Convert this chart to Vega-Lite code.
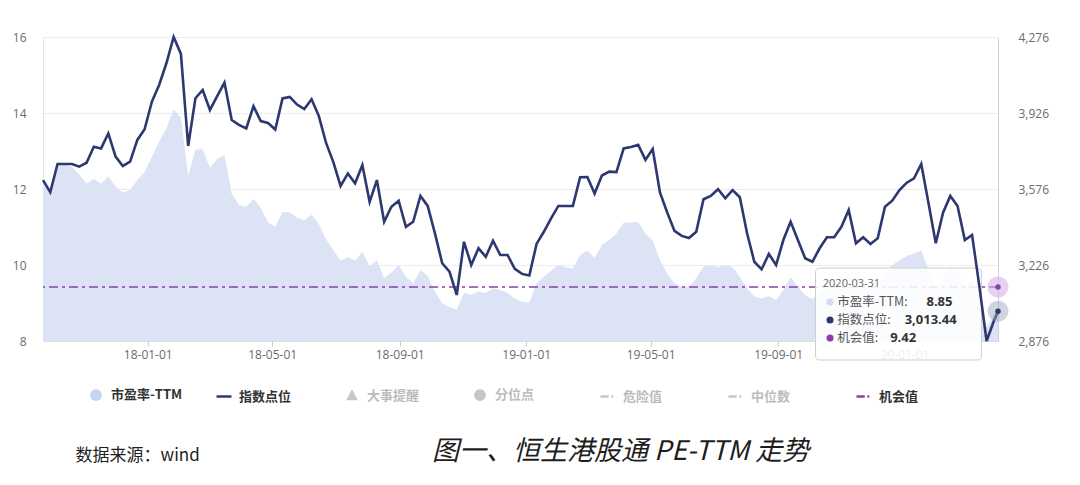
{
  "$schema": "https://vega.github.io/schema/vega-lite/v6.json",
  "width": 955,
  "height": 304,
  "autosize": {"type": "none"},
  "padding": {"left": 43, "top": 37, "right": 82, "bottom": 144},
  "background": "#ffffff",
  "config": {
    "view": {"stroke": null},
    "font": "Noto Sans CJK SC",
    "axis": {"labelFont": "Open Sans", "labelFontSize": 12, "labelColor": "#6b6b6b"}
  },
  "title": {
    "text": "图一、恒生港股通 PE-TTM 走势",
    "orient": "bottom",
    "anchor": "start",
    "frame": "group",
    "dx": 389,
    "offset": -24,
    "font": "Noto Sans CJK SC",
    "fontSize": 27,
    "fontStyle": "italic",
    "fontWeight": "normal",
    "color": "#1e1e1e"
  },
  "datasets": {
    "main": [
      {"date": "2017-09-22", "pe": 12.13, "idx": 3617},
      {"date": "2017-09-29", "pe": 11.92, "idx": 3561},
      {"date": "2017-10-06", "pe": 12.63, "idx": 3691},
      {"date": "2017-10-13", "pe": 12.63, "idx": 3691},
      {"date": "2017-10-20", "pe": 12.57, "idx": 3691},
      {"date": "2017-10-27", "pe": 12.38, "idx": 3679},
      {"date": "2017-11-03", "pe": 12.14, "idx": 3697},
      {"date": "2017-11-10", "pe": 12.27, "idx": 3771},
      {"date": "2017-11-17", "pe": 12.14, "idx": 3763},
      {"date": "2017-11-24", "pe": 12.33, "idx": 3832},
      {"date": "2017-12-01", "pe": 12.06, "idx": 3725},
      {"date": "2017-12-08", "pe": 11.9, "idx": 3682},
      {"date": "2017-12-15", "pe": 11.98, "idx": 3702},
      {"date": "2017-12-22", "pe": 12.24, "idx": 3802},
      {"date": "2017-12-29", "pe": 12.45, "idx": 3851},
      {"date": "2018-01-05", "pe": 12.85, "idx": 3978},
      {"date": "2018-01-12", "pe": 13.25, "idx": 4055},
      {"date": "2018-01-19", "pe": 13.6, "idx": 4155},
      {"date": "2018-01-26", "pe": 14.09, "idx": 4276},
      {"date": "2018-02-02", "pe": 13.88, "idx": 4198},
      {"date": "2018-02-09", "pe": 12.35, "idx": 3774},
      {"date": "2018-02-16", "pe": 13.03, "idx": 3994},
      {"date": "2018-02-23", "pe": 13.05, "idx": 4032},
      {"date": "2018-03-02", "pe": 12.55, "idx": 3940},
      {"date": "2018-03-09", "pe": 12.79, "idx": 4004},
      {"date": "2018-03-16", "pe": 12.89, "idx": 4066},
      {"date": "2018-03-23", "pe": 11.87, "idx": 3894},
      {"date": "2018-03-30", "pe": 11.58, "idx": 3871},
      {"date": "2018-04-06", "pe": 11.53, "idx": 3855},
      {"date": "2018-04-13", "pe": 11.74, "idx": 3957},
      {"date": "2018-04-20", "pe": 11.51, "idx": 3889},
      {"date": "2018-04-27", "pe": 11.12, "idx": 3880},
      {"date": "2018-05-04", "pe": 11.01, "idx": 3850},
      {"date": "2018-05-11", "pe": 11.4, "idx": 3993},
      {"date": "2018-05-18", "pe": 11.38, "idx": 4000},
      {"date": "2018-05-25", "pe": 11.25, "idx": 3965},
      {"date": "2018-06-01", "pe": 11.18, "idx": 3944},
      {"date": "2018-06-08", "pe": 11.32, "idx": 3989},
      {"date": "2018-06-15", "pe": 11.08, "idx": 3912},
      {"date": "2018-06-22", "pe": 10.68, "idx": 3788},
      {"date": "2018-06-29", "pe": 10.39, "idx": 3700},
      {"date": "2018-07-06", "pe": 10.11, "idx": 3590},
      {"date": "2018-07-13", "pe": 10.21, "idx": 3647},
      {"date": "2018-07-20", "pe": 10.12, "idx": 3602},
      {"date": "2018-07-27", "pe": 10.35, "idx": 3686},
      {"date": "2018-08-03", "pe": 9.96, "idx": 3517},
      {"date": "2018-08-10", "pe": 10.13, "idx": 3617},
      {"date": "2018-08-17", "pe": 9.65, "idx": 3425},
      {"date": "2018-08-24", "pe": 9.8, "idx": 3494},
      {"date": "2018-08-31", "pe": 10.0, "idx": 3522},
      {"date": "2018-09-07", "pe": 9.69, "idx": 3402},
      {"date": "2018-09-14", "pe": 9.52, "idx": 3425},
      {"date": "2018-09-21", "pe": 9.87, "idx": 3544},
      {"date": "2018-09-28", "pe": 9.71, "idx": 3498},
      {"date": "2018-10-05", "pe": 9.3, "idx": 3372},
      {"date": "2018-10-12", "pe": 8.99, "idx": 3234},
      {"date": "2018-10-19", "pe": 8.9, "idx": 3195},
      {"date": "2018-10-26", "pe": 8.82, "idx": 3088},
      {"date": "2018-11-02", "pe": 9.26, "idx": 3333},
      {"date": "2018-11-09", "pe": 9.21, "idx": 3226},
      {"date": "2018-11-16", "pe": 9.3, "idx": 3303},
      {"date": "2018-11-23", "pe": 9.26, "idx": 3264},
      {"date": "2018-11-30", "pe": 9.39, "idx": 3338},
      {"date": "2018-12-07", "pe": 9.34, "idx": 3272},
      {"date": "2018-12-14", "pe": 9.26, "idx": 3272},
      {"date": "2018-12-21", "pe": 9.12, "idx": 3208},
      {"date": "2018-12-28", "pe": 9.03, "idx": 3185},
      {"date": "2019-01-04", "pe": 9.01, "idx": 3178},
      {"date": "2019-01-11", "pe": 9.52, "idx": 3323},
      {"date": "2019-01-18", "pe": 9.69, "idx": 3379},
      {"date": "2019-01-25", "pe": 9.85, "idx": 3441},
      {"date": "2019-02-01", "pe": 10.0, "idx": 3498},
      {"date": "2019-02-08", "pe": 9.94, "idx": 3498},
      {"date": "2019-02-15", "pe": 9.91, "idx": 3498},
      {"date": "2019-02-22", "pe": 10.26, "idx": 3630},
      {"date": "2019-03-01", "pe": 10.38, "idx": 3631},
      {"date": "2019-03-08", "pe": 10.18, "idx": 3555},
      {"date": "2019-03-15", "pe": 10.53, "idx": 3638},
      {"date": "2019-03-22", "pe": 10.66, "idx": 3656},
      {"date": "2019-03-29", "pe": 10.83, "idx": 3654},
      {"date": "2019-04-05", "pe": 11.11, "idx": 3763},
      {"date": "2019-04-12", "pe": 11.12, "idx": 3769},
      {"date": "2019-04-19", "pe": 11.14, "idx": 3779},
      {"date": "2019-04-26", "pe": 10.82, "idx": 3710},
      {"date": "2019-05-03", "pe": 10.65, "idx": 3760},
      {"date": "2019-05-10", "pe": 10.13, "idx": 3560},
      {"date": "2019-05-17", "pe": 9.76, "idx": 3468},
      {"date": "2019-05-24", "pe": 9.52, "idx": 3383},
      {"date": "2019-05-31", "pe": 9.42, "idx": 3360},
      {"date": "2019-06-07", "pe": 9.43, "idx": 3350},
      {"date": "2019-06-14", "pe": 9.65, "idx": 3379},
      {"date": "2019-06-21", "pe": 9.96, "idx": 3529},
      {"date": "2019-06-28", "pe": 10.0, "idx": 3544},
      {"date": "2019-07-05", "pe": 9.94, "idx": 3575},
      {"date": "2019-07-12", "pe": 10.0, "idx": 3533},
      {"date": "2019-07-19", "pe": 9.94, "idx": 3571},
      {"date": "2019-07-26", "pe": 9.69, "idx": 3538},
      {"date": "2019-08-02", "pe": 9.39, "idx": 3372},
      {"date": "2019-08-09", "pe": 9.17, "idx": 3241},
      {"date": "2019-08-16", "pe": 9.12, "idx": 3206},
      {"date": "2019-08-23", "pe": 9.18, "idx": 3277},
      {"date": "2019-08-30", "pe": 9.08, "idx": 3226},
      {"date": "2019-09-06", "pe": 9.34, "idx": 3341},
      {"date": "2019-09-13", "pe": 9.68, "idx": 3425},
      {"date": "2019-09-20", "pe": 9.43, "idx": 3341},
      {"date": "2019-09-27", "pe": 9.21, "idx": 3257},
      {"date": "2019-10-04", "pe": 9.1, "idx": 3241},
      {"date": "2019-10-11", "pe": 9.28, "idx": 3303},
      {"date": "2019-10-18", "pe": 9.42, "idx": 3354},
      {"date": "2019-10-25", "pe": 9.42, "idx": 3354},
      {"date": "2019-11-01", "pe": 9.56, "idx": 3402},
      {"date": "2019-11-08", "pe": 9.78, "idx": 3479},
      {"date": "2019-11-15", "pe": 9.35, "idx": 3326},
      {"date": "2019-11-22", "pe": 9.42, "idx": 3354},
      {"date": "2019-11-29", "pe": 9.34, "idx": 3323},
      {"date": "2019-12-06", "pe": 9.41, "idx": 3349},
      {"date": "2019-12-13", "pe": 9.82, "idx": 3494},
      {"date": "2019-12-20", "pe": 10.0, "idx": 3522},
      {"date": "2019-12-27", "pe": 10.12, "idx": 3571},
      {"date": "2020-01-03", "pe": 10.24, "idx": 3605},
      {"date": "2020-01-10", "pe": 10.3, "idx": 3625},
      {"date": "2020-01-17", "pe": 10.38, "idx": 3691},
      {"date": "2020-01-24", "pe": 9.88, "idx": 3510},
      {"date": "2020-01-31", "pe": 9.36, "idx": 3326},
      {"date": "2020-02-07", "pe": 9.74, "idx": 3467},
      {"date": "2020-02-14", "pe": 9.95, "idx": 3544},
      {"date": "2020-02-21", "pe": 9.88, "idx": 3498},
      {"date": "2020-02-28", "pe": 9.45, "idx": 3341},
      {"date": "2020-03-06", "pe": 9.55, "idx": 3364},
      {"date": "2020-03-13", "pe": 9.07, "idx": 3129},
      {"date": "2020-03-20", "pe": 8.35, "idx": 2876},
      {"date": "2020-03-27", "pe": 8.7, "idx": 2968},
      {"date": "2020-03-31", "pe": 8.85, "idx": 3013.44}
    ],
    "legendItems": [
      {"name": "市盈率-TTM"},
      {"name": "指数点位"},
      {"name": "大事提醒"},
      {"name": "分位点"},
      {"name": "危险值"},
      {"name": "中位数"},
      {"name": "机会值"}
    ],
    "one": [{}]
  },
  "layer": [
    {
      "layer": [
        {
          "data": {"name": "main"},
          "mark": {"type": "area", "color": "#dce3f5", "opacity": 1},
          "encoding": {
            "x": {
              "field": "date",
              "type": "temporal",
              "scale": {
                "type": "utc",
                "nice": false,
                "domain": [
                  {"year": 2017, "month": 9, "date": 22, "utc": true},
                  {"year": 2020, "month": 3, "date": 31, "utc": true}
                ]
              },
              "axis": {
                "title": "数据来源：wind",
                "titleX": 32,
                "titleY": 114,
                "titleAlign": "left",
                "titleAnchor": "start",
                "titleBaseline": "middle",
                "titleFont": "Noto Sans CJK SC",
                "titleFontSize": 17,
                "titleFontWeight": "normal",
                "titleColor": "#1e1e1e",
                "values": [
                  {"year": 2018, "month": 1, "date": 1, "utc": true},
                  {"year": 2018, "month": 5, "date": 1, "utc": true},
                  {"year": 2018, "month": 9, "date": 1, "utc": true},
                  {"year": 2019, "month": 1, "date": 1, "utc": true},
                  {"year": 2019, "month": 5, "date": 1, "utc": true},
                  {"year": 2019, "month": 9, "date": 1, "utc": true},
                  {"year": 2020, "month": 1, "date": 1, "utc": true}
                ],
                "format": "%y-%m-%d",
                "grid": false,
                "domainColor": "#dcdcdc",
                "tickColor": "#cccccc",
                "tickSize": 5,
                "labelPadding": 3,
                "labelFlush": false
              }
            },
            "y": {
              "field": "pe",
              "type": "quantitative",
              "stack": null,
              "scale": {"domain": [8, 16], "nice": false, "zero": false},
              "axis": {
                "title": null,
                "values": [8, 10, 12, 14, 16],
                "format": "d",
                "grid": true,
                "gridColor": "#ececec",
                "domain": true,
                "domainColor": "#e4e4e4",
                "ticks": false,
                "labelPadding": 17
              }
            }
          }
        },
        {
          "data": {"name": "one"},
          "mark": {"type": "rule", "color": "#8b3fae", "strokeWidth": 1.6, "strokeDash": [9, 4, 3, 4]},
          "encoding": {"y": {"datum": 9.42}}
        },
        {
          "data": {"name": "one"},
          "mark": {"type": "rect", "fill": "#ffffff", "fillOpacity": 0.88, "stroke": "#cfcfcf", "strokeWidth": 1, "cornerRadius": 4},
          "encoding": {
            "x": {"datum": {"year": 2019, "month": 10, "date": 7, "utc": true}, "type": "temporal"},
            "x2": {"datum": {"year": 2020, "month": 3, "date": 15, "utc": true}},
            "y": {"datum": 9.92},
            "y2": {"datum": 7.5}
          }
        },
        {
          "data": {"name": "one"},
          "mark": {"type": "text", "text": "2020-03-31", "align": "left", "baseline": "middle", "font": "Open Sans", "fontSize": 11, "color": "#666666"},
          "encoding": {
            "x": {"datum": {"year": 2019, "month": 10, "date": 14, "utc": true}, "type": "temporal"},
            "y": {"datum": 9.5}
          }
        },
        {
          "data": {"name": "one"},
          "mark": {"type": "point", "filled": true, "opacity": 1, "color": "#d3dcf3", "size": 50},
          "encoding": {
            "x": {"datum": {"year": 2019, "month": 10, "date": 21, "utc": true}, "type": "temporal"},
            "y": {"datum": 9.026}
          }
        },
        {
          "data": {"name": "one"},
          "mark": {"type": "point", "filled": true, "opacity": 1, "color": "#2e3870", "size": 50},
          "encoding": {
            "x": {"datum": {"year": 2019, "month": 10, "date": 21, "utc": true}, "type": "temporal"},
            "y": {"datum": 8.553}
          }
        },
        {
          "data": {"name": "one"},
          "mark": {"type": "point", "filled": true, "opacity": 1, "color": "#8b3fae", "size": 50},
          "encoding": {
            "x": {"datum": {"year": 2019, "month": 10, "date": 21, "utc": true}, "type": "temporal"},
            "y": {"datum": 8.079}
          }
        },
        {
          "data": {"name": "one"},
          "mark": {"type": "text", "text": "市盈率-TTM:", "align": "left", "baseline": "middle", "fontSize": 12.5, "color": "#555555"},
          "encoding": {
            "x": {"datum": {"year": 2019, "month": 10, "date": 28, "utc": true}, "type": "temporal"},
            "y": {"datum": 9.026}
          }
        },
        {
          "data": {"name": "one"},
          "mark": {"type": "text", "text": "指数点位:", "align": "left", "baseline": "middle", "fontSize": 12.5, "color": "#555555"},
          "encoding": {
            "x": {"datum": {"year": 2019, "month": 10, "date": 28, "utc": true}, "type": "temporal"},
            "y": {"datum": 8.553}
          }
        },
        {
          "data": {"name": "one"},
          "mark": {"type": "text", "text": "机会值:", "align": "left", "baseline": "middle", "fontSize": 12.5, "color": "#555555"},
          "encoding": {
            "x": {"datum": {"year": 2019, "month": 10, "date": 28, "utc": true}, "type": "temporal"},
            "y": {"datum": 8.079}
          }
        },
        {
          "data": {"name": "one"},
          "mark": {"type": "text", "text": "8.85", "align": "left", "baseline": "middle", "font": "Open Sans", "fontSize": 13, "fontWeight": "bold", "color": "#333333"},
          "encoding": {
            "x": {"datum": {"year": 2020, "month": 1, "date": 22, "utc": true}, "type": "temporal"},
            "y": {"datum": 9.026}
          }
        },
        {
          "data": {"name": "one"},
          "mark": {"type": "text", "text": "3,013.44", "align": "left", "baseline": "middle", "font": "Open Sans", "fontSize": 13, "fontWeight": "bold", "color": "#333333"},
          "encoding": {
            "x": {"datum": {"year": 2020, "month": 1, "date": 1, "utc": true}, "type": "temporal"},
            "y": {"datum": 8.553}
          }
        },
        {
          "data": {"name": "one"},
          "mark": {"type": "text", "text": "9.42", "align": "left", "baseline": "middle", "font": "Open Sans", "fontSize": 13, "fontWeight": "bold", "color": "#333333"},
          "encoding": {
            "x": {"datum": {"year": 2019, "month": 12, "date": 18, "utc": true}, "type": "temporal"},
            "y": {"datum": 8.079}
          }
        },
        {
          "data": {"name": "one"},
          "mark": {"type": "point", "filled": true, "color": "#d7b3e6", "opacity": 0.6, "size": 440},
          "encoding": {
            "x": {"datum": {"year": 2020, "month": 3, "date": 31, "utc": true}, "type": "temporal"},
            "y": {"datum": 9.42}
          }
        },
        {
          "data": {"name": "one"},
          "mark": {"type": "point", "filled": true, "color": "#8b3fae", "opacity": 1, "size": 30},
          "encoding": {
            "x": {"datum": {"year": 2020, "month": 3, "date": 31, "utc": true}, "type": "temporal"},
            "y": {"datum": 9.42}
          }
        },
        {
          "data": {"name": "legendItems"},
          "mark": {"type": "point", "filled": false, "opacity": 0},
          "encoding": {
            "stroke": {
              "field": "name",
              "type": "nominal",
              "scale": {
                "domain": ["市盈率-TTM", "指数点位", "大事提醒", "分位点", "危险值", "中位数", "机会值"],
                "range": ["#c8d5f1", "#2e3870", "#c6c6c6", "#c6c6c6", "#c6c6c6", "#c6c6c6", "#8b3fae"]
              },
              "legend": {
                "title": null,
                "orient": "none",
                "legendX": 44,
                "legendY": 349,
                "direction": "horizontal",
                "gridAlign": "all",
                "columnPadding": 29,
                "padding": 0,
                "symbolSize": 225,
                "symbolStrokeWidth": 2.5,
                "symbolOpacity": 1,
                "labelFont": "Noto Sans CJK SC",
                "labelFontSize": 13,
                "labelFontWeight": "bold",
                "labelOffset": 6,
                "labelLimit": 200,
                "labelColor": {"expr": "indexof(['市盈率-TTM','指数点位','机会值'], datum.value) >= 0 ? '#333333' : '#bcbcbc'"}
              }
            },
            "shape": {
              "field": "name",
              "type": "nominal",
              "scale": {
                "domain": ["市盈率-TTM", "指数点位", "大事提醒", "分位点", "危险值", "中位数", "机会值"],
                "range": [
                  "M0.62,0A0.62,0.62,0,1,1,-0.62,0A0.62,0.62,0,1,1,0.62,0ZM0.38,0A0.38,0.38,0,1,1,-0.38,0A0.38,0.38,0,1,1,0.38,0ZM0.14,0A0.14,0.14,0,1,1,-0.14,0A0.14,0.14,0,1,1,0.14,0Z",
                  "M-1,0H1",
                  "M0,-0.55L0.5,0.4L-0.5,0.4ZM0,-0.2L0.2,0.2L-0.2,0.2Z",
                  "M0.62,0A0.62,0.62,0,1,1,-0.62,0A0.62,0.62,0,1,1,0.62,0ZM0.38,0A0.38,0.38,0,1,1,-0.38,0A0.38,0.38,0,1,1,0.38,0ZM0.14,0A0.14,0.14,0,1,1,-0.14,0A0.14,0.14,0,1,1,0.14,0Z",
                  "M-1,0H0.1M0.45,0H0.7",
                  "M-1,0H0.1M0.45,0H0.7",
                  "M-1,0H0.1M0.45,0H0.7"
                ]
              },
              "legend": {"title": null}
            }
          }
        }
      ]
    },
    {
      "layer": [
        {
          "data": {"name": "main"},
          "mark": {"type": "line", "color": "#2e3870", "strokeWidth": 2.6},
          "encoding": {
            "x": {"field": "date", "type": "temporal"},
            "y": {
              "field": "idx",
              "type": "quantitative",
              "scale": {"domain": [2876, 4276], "nice": false, "zero": false},
              "axis": {
                "orient": "right",
                "title": null,
                "values": [2876, 3226, 3576, 3926, 4276],
                "format": ",.0f",
                "grid": false,
                "domain": true,
                "domainColor": "#cdd1da",
                "ticks": false,
                "labelPadding": 20
              }
            }
          }
        },
        {
          "data": {"name": "main"},
          "transform": [{"filter": "datum.idx == 3013.44"}],
          "mark": {"type": "point", "filled": true, "color": "#9aa0b3", "opacity": 0.45, "size": 440},
          "encoding": {
            "x": {"field": "date", "type": "temporal"},
            "y": {"field": "idx", "type": "quantitative"}
          }
        },
        {
          "data": {"name": "main"},
          "transform": [{"filter": "datum.idx == 3013.44"}],
          "mark": {"type": "point", "filled": true, "color": "#2e3870", "opacity": 1, "size": 30},
          "encoding": {
            "x": {"field": "date", "type": "temporal"},
            "y": {"field": "idx", "type": "quantitative"}
          }
        }
      ]
    }
  ],
  "resolve": {"scale": {"y": "independent"}}
}
